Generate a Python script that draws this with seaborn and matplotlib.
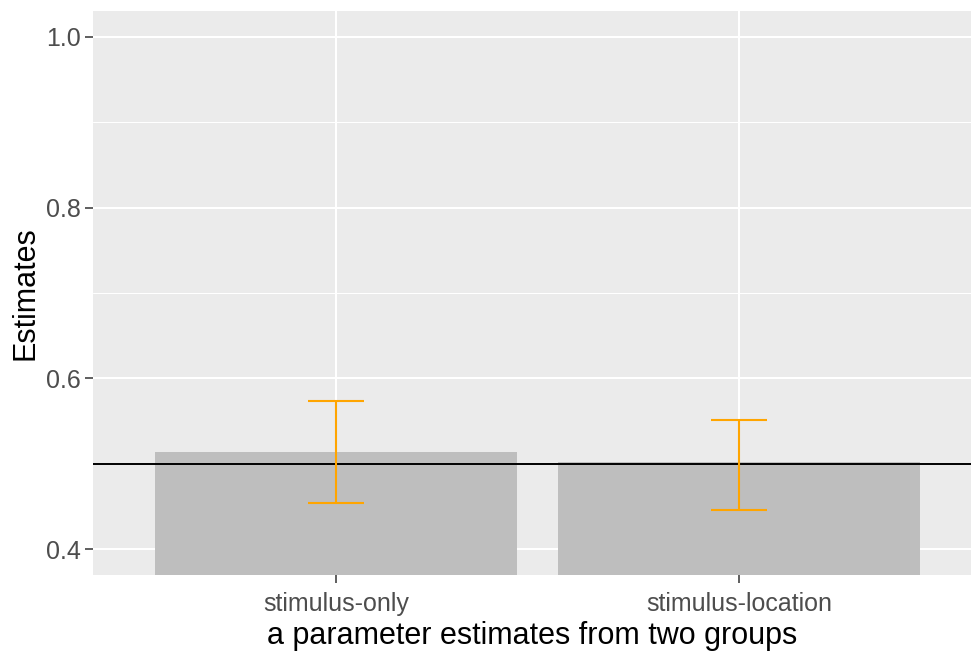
import matplotlib
matplotlib.use("Agg")
import matplotlib.pyplot as plt
import seaborn as sns
import pandas as pd
from matplotlib.ticker import MultipleLocator

groups = ["stimulus-only", "stimulus-location"]
estimates = [0.514, 0.502]
ci_low = [0.454, 0.446]
ci_high = [0.574, 0.551]
reference_line = 0.5
y_ticks = [0.4, 0.6, 0.8, 1.0]
y_tick_labels = ["0.4", "0.6", "0.8", "1.0"]

df = pd.DataFrame({"group": groups, "estimate": estimates})

sns.set_theme(style="darkgrid")
plt.rcParams["font.family"] = ["Liberation Sans", "DejaVu Sans"]

fig = plt.figure(figsize=(9.71, 6.53), dpi=100)
ax = fig.add_axes([0.0958, 0.1194, 0.9042, 0.8637])
ax.set_facecolor("#EBEBEB")

sns.barplot(data=df, x="group", y="estimate", color="#BEBEBE", width=0.9,
            errorbar=None, saturation=1, ax=ax, zorder=2, linewidth=0)
for p in ax.patches:
    p.set_facecolor("#BEBEBE")
    p.set_edgecolor("none")

xs = list(range(len(groups)))
ax.axhline(reference_line, color="black", lw=1.4, zorder=3)
yerr = [[e - l for e, l in zip(estimates, ci_low)], [h - e for e, h in zip(estimates, ci_high)]]
ax.errorbar(xs, estimates, yerr=yerr, fmt="none", ecolor="#FFA500",
            elinewidth=1.5, capsize=20, capthick=1.5, zorder=4)

ax.set_ylim(0.37, 1.03)
ax.set_xlim(-0.603, 1.576)
ax.set_yticks(y_ticks)
ax.set_yticklabels(y_tick_labels)
ax.yaxis.set_minor_locator(MultipleLocator(0.1))
ax.grid(which="major", color="white", lw=1.5, zorder=0)
ax.grid(which="minor", axis="y", color="white", lw=0.75, zorder=0)
ax.set_axisbelow(True)
for s in ax.spines.values():
    s.set_visible(False)

ax.tick_params(axis="both", which="major", length=5.5, width=1.1, color="#333333",
               labelsize=18, labelcolor="#4D4D4D", pad=3.5, bottom=True, left=True)
ax.tick_params(axis="x", which="major", pad=6.5)
ax.tick_params(axis="both", which="minor", length=0)

ax.set_xlabel("a parameter estimates from two groups", fontsize=22, color="black", labelpad=4)
ax.set_ylabel("Estimates", fontsize=22, color="black", labelpad=4)

fig.savefig("out.png", dpi=100)
